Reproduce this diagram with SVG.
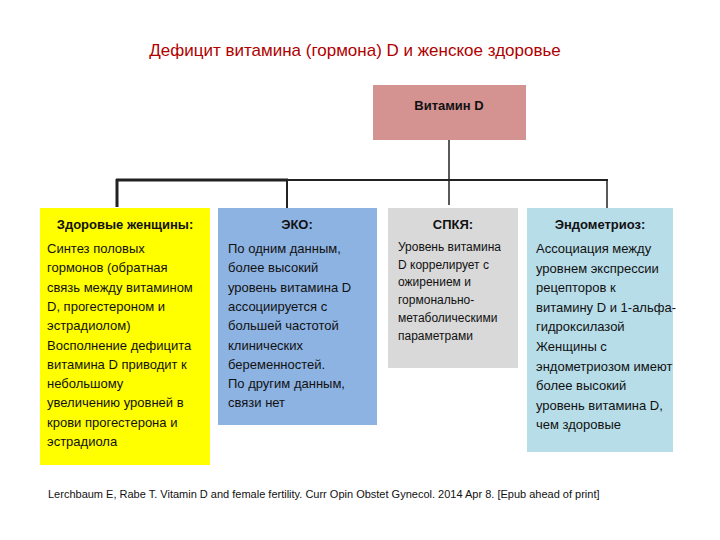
<svg xmlns="http://www.w3.org/2000/svg" width="720" height="540" viewBox="0 0 720 540">
<style>
text{font-family:"Liberation Sans Narrow","Liberation Sans",Arial,sans-serif;fill:#111}
.t{font-size:13px}
.h{font-size:13px;font-weight:bold}
.c{stroke:#222;fill:none}
</style>
<rect width="720" height="540" fill="#fff"/>
<text x="355" y="56" text-anchor="middle" style="font-size:17px;fill:#b00000;font-family:'Liberation Sans',Arial,sans-serif">Дефицит витамина (гормона) D и  женское здоровье</text>
<g id="connectors">
<line class="c" x1="449" y1="140" x2="449" y2="205" stroke-width="1.5"/>
<line class="c" x1="116" y1="180" x2="288" y2="180" stroke-width="3"/>
<line class="c" x1="288" y1="180" x2="608" y2="180" stroke-width="1.8"/>
<line class="c" x1="117" y1="179" x2="117" y2="207" stroke-width="3"/>
<line class="c" x1="287" y1="180" x2="287" y2="209" stroke-width="2"/>
<line class="c" x1="607" y1="180" x2="607" y2="209" stroke-width="1.5"/>
</g>
<g id="vitd"><rect x="373" y="85" width="153" height="55" fill="#d49391"/><text x="449" y="110" text-anchor="middle" class="h">Витамин D</text></g>
<g id="healthy"><rect x="40" y="208" width="170" height="257" fill="#ffff00"/>
<text class="h" x="125" y="229" text-anchor="middle">Здоровые женщины:</text>
<text class="t" x="47" y="253"><tspan x="47">Синтез половых</tspan><tspan x="47" dy="19.3">гормонов (обратная</tspan><tspan x="47" dy="19.3">связь между витамином</tspan><tspan x="47" dy="19.3">D,  прогестероном и</tspan><tspan x="47" dy="19.3">эстрадиолом)</tspan><tspan x="47" dy="19.3">Восполнение дефицита</tspan><tspan x="47" dy="19.3">витамина D приводит к</tspan><tspan x="47" dy="19.3">небольшому</tspan><tspan x="47" dy="19.3">увеличению уровней в</tspan><tspan x="47" dy="19.3">крови прогестерона и</tspan><tspan x="47" dy="19.3">эстрадиола</tspan></text></g>
<g id="eco"><rect x="218" y="208" width="159" height="217" fill="#8db3e2"/>
<text class="h" x="297" y="229" text-anchor="middle">ЭКО:</text>
<text class="t" x="228" y="253"><tspan x="228">По одним данным,</tspan><tspan x="228" dy="19.3">более высокий</tspan><tspan x="228" dy="19.3">уровень витамина D</tspan><tspan x="228" dy="19.3">ассоциируется с</tspan><tspan x="228" dy="19.3">большей частотой</tspan><tspan x="228" dy="19.3">клинических</tspan><tspan x="228" dy="19.3">беременностей.</tspan><tspan x="228" dy="19.3">По другим данным,</tspan><tspan x="228" dy="19.3">связи нет</tspan></text></g>
<g id="pcos"><rect x="388" y="208" width="130" height="160" fill="#d9d9d9"/>
<text class="h" x="453" y="229" text-anchor="middle">СПКЯ:</text>
<text class="t" x="398" y="251" style="font-size:12px"><tspan x="398">Уровень витамина</tspan><tspan x="398" dy="17.7">D коррелирует с</tspan><tspan x="398" dy="17.7">ожирением и</tspan><tspan x="398" dy="17.7">гормонально-</tspan><tspan x="398" dy="17.7">метаболическими</tspan><tspan x="398" dy="17.7">параметрами</tspan></text></g>
<g id="endo"><rect x="527" y="208" width="146" height="244" fill="#b7dde8"/>
<text class="h" x="600" y="229" text-anchor="middle">Эндометриоз:</text>
<text class="t" x="536" y="253"><tspan x="536">Ассоциация между</tspan><tspan x="536" dy="19.6">уровнем экспрессии</tspan><tspan x="536" dy="19.6">рецепторов к</tspan><tspan x="536" dy="19.6">витамину D и 1-альфа-</tspan><tspan x="536" dy="19.6">гидроксилазой</tspan><tspan x="536" dy="19.6">Женщины с</tspan><tspan x="536" dy="19.6">эндометриозом имеют</tspan><tspan x="536" dy="19.6">более высокий</tspan><tspan x="536" dy="19.6">уровень витамина D,</tspan><tspan x="536" dy="19.6">чем здоровые</tspan></text></g>
<text x="48" y="498" style="font-size:11px;font-family:'Liberation Sans',Arial,sans-serif">Lerchbaum E, Rabe T. Vitamin D and female fertility. Curr Opin Obstet Gynecol. 2014 Apr 8. [Epub ahead of print]</text>
</svg>
